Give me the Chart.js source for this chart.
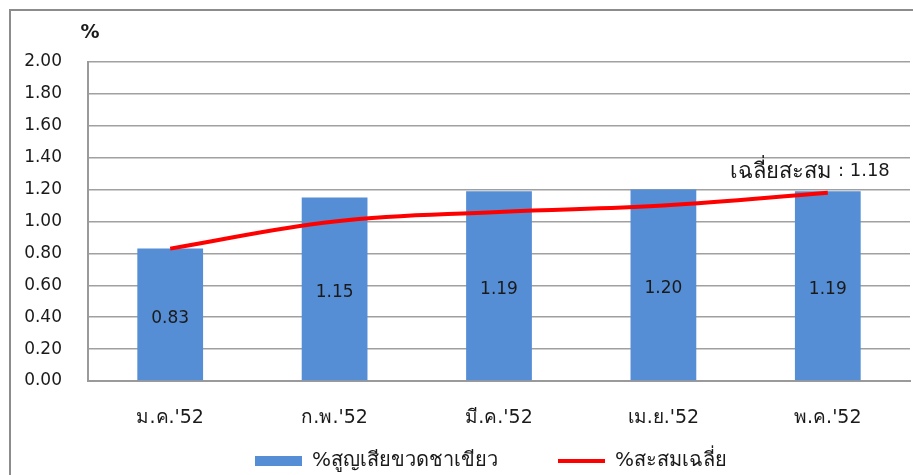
<!DOCTYPE html>
<html>
<head>
<meta charset="utf-8">
<script src="https://cdn.jsdelivr.net/npm/chart.js@4/dist/chart.umd.min.js"></script>
<style>
  html, body { margin: 0; padding: 0; background: #ffffff; }
  #wrap { width: 913px; height: 475px; position: relative; }
</style>
</head>
<body>
<div id="wrap"><canvas id="c" width="913" height="475"></canvas></div>
<script>
const categories = ["ม.ค.'52", "ก.พ.'52", "มี.ค.'52", "เม.ย.'52", "พ.ค.'52"];
const lossPercent = [0.83, 1.15, 1.19, 1.20, 1.19];
const cumulativeAvg = [0.83, 1.00, 1.06, 1.10, 1.18];
const seriesNames = ["%สูญเสียขวดชาเขียว", "%สะสมเฉลี่ย"];
const yTicks = [0, 0.2, 0.4, 0.6, 0.8, 1.0, 1.2, 1.4, 1.6, 1.8, 2.0];
const yUnit = "%";
const avgNoteLabel = "เฉลี่ยสะสม";
const avgNoteValue = " : 1.18";

const FONT = "'DejaVu Sans', 'Noto Sans', sans-serif";
const TXT = '#1a1a1a';
const LEGEND_PAD = 60;

const framePlugin = {
  id: 'frame',
  beforeDraw(chart) {
    const ctx = chart.ctx;
    ctx.save();
    ctx.fillStyle = '#ffffff';
    ctx.fillRect(0, 0, chart.width, chart.height);
    ctx.strokeStyle = '#8c8c8c';
    ctx.lineWidth = 2;
    ctx.beginPath();
    ctx.moveTo(chart.width + 5, 10);
    ctx.lineTo(10, 10);
    ctx.lineTo(10, chart.height + 5);
    ctx.stroke();
    ctx.restore();
  }
};

// Reposition the legend box after layout (wide item spacing, item row near the bottom)
const legendShift = {
  id: 'legendShift',
  afterLayout(chart) {
    const lg = chart.legend;
    if (!lg) return;
    lg.top = 460 - LEGEND_PAD - 9;
    lg.bottom = chart.height;
    lg.height = lg.bottom - lg.top;
    lg.left += 36;
    lg.right += 36;
  }
};

const labelPlugin = {
  id: 'labels',
  afterDatasetsDraw(chart) {
    const ctx = chart.ctx;
    const area = chart.chartArea;
    ctx.save();
    const barMeta = chart.getDatasetMeta(0);
    ctx.font = '17px ' + FONT;
    ctx.fillStyle = TXT;
    ctx.textAlign = 'center';
    ctx.textBaseline = 'middle';
    barMeta.data.forEach((bar, i) => {
      const mid = (bar.y + bar.base) / 2;
      ctx.fillText(lossPercent[i].toFixed(2), bar.x, mid + 4);
    });
    ctx.font = 'bold 19px ' + FONT;
    ctx.textAlign = 'center';
    ctx.fillText(yUnit, area.left + 2, area.top - 29);
    // average note near last point of the line
    const lineMeta = chart.getDatasetMeta(1);
    const last = lineMeta.data[lineMeta.data.length - 1];
    const right = last.x + 62;
    const y = last.y - 21;
    ctx.textAlign = 'right';
    ctx.font = '18px ' + FONT;
    ctx.fillText(avgNoteValue, right, y);
    const vw = ctx.measureText(avgNoteValue).width;
    ctx.font = '22px ' + FONT;
    ctx.fillText(avgNoteLabel, right - vw, y);
    ctx.restore();
  }
};

new Chart(document.getElementById('c'), {
  type: 'bar',
  data: {
    labels: categories,
    datasets: [
      {
        type: 'bar',
        label: seriesNames[0],
        data: lossPercent,
        backgroundColor: '#558ed5',
        borderWidth: 0,
        barPercentage: 0.4,
        categoryPercentage: 1.0,
        pointStyle: 'rect',
        order: 2
      },
      {
        type: 'line',
        label: seriesNames[1],
        data: cumulativeAvg,
        borderColor: '#ff0000',
        backgroundColor: '#ff0000',
        borderWidth: 4,
        tension: 0.4,
        pointRadius: 0,
        pointStyle: 'line',
        fill: false,
        order: 1
      }
    ]
  },
  options: {
    responsive: false,
    animation: false,
    layout: { padding: { top: 62, right: 3, left: 0, bottom: 0 } },
    plugins: {
      tooltip: { enabled: false },
      legend: {
        position: 'bottom',
        maxHeight: 50,
        labels: {
          usePointStyle: true,
          pointStyleWidth: 47,
          boxHeight: 10,
          padding: LEGEND_PAD,
          color: TXT,
          font: { family: FONT, size: 20 },
          sort: (a, b) => a.datasetIndex - b.datasetIndex
        }
      }
    },
    scales: {
      x: {
        grid: { display: false },
        border: { display: true, color: '#9a9a9a', width: 2 },
        ticks: { color: TXT, font: { family: FONT, size: 19 }, padding: 18 },
        afterFit(scale) { scale.height = 44; }
      },
      y: {
        min: 0,
        max: 2,
        afterBuildTicks(scale) { scale.ticks = yTicks.map(v => ({ value: v })); },
        ticks: {
          color: TXT,
          font: { family: FONT, size: 17 },
          padding: 26,
          callback: v => Number(v).toFixed(2)
        },
        grid: { color: '#a0a0a0', lineWidth: 1.5, drawTicks: false },
        border: { display: true, color: '#9a9a9a', width: 2 },
        afterFit(scale) { scale.width = 88; }
      }
    }
  },
  plugins: [framePlugin, legendShift, labelPlugin]
});
</script>
</body>
</html>
